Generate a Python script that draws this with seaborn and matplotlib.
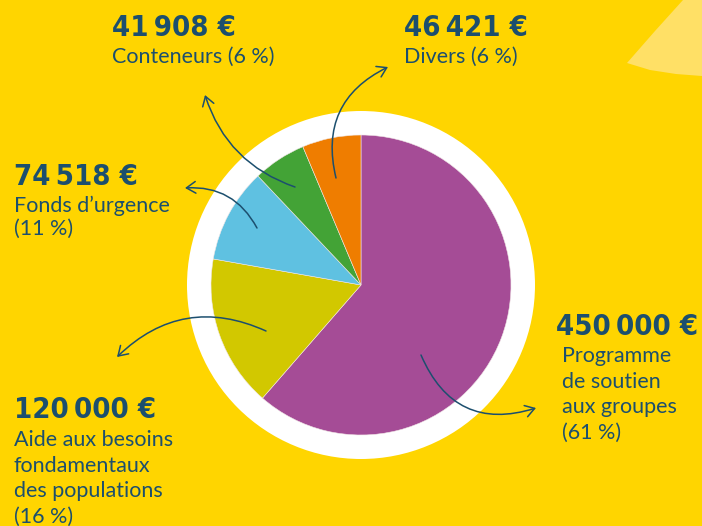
import matplotlib
matplotlib.use("Agg")
import matplotlib.pyplot as plt
import seaborn as sns
from matplotlib.patches import Circle, Polygon, FancyArrowPatch, ArrowStyle

# ---- data ----
categories = ["Programme de soutien aux groupes",
              "Aide aux besoins fondamentaux des populations",
              "Fonds d\u2019urgence", "Conteneurs", "Divers"]
amounts = [450000, 120000, 74518, 41908, 46421]
percents = [61, 16, 11, 6, 6]
label_lines = [["Programme", "de soutien", "aux groupes", "(61 %)"],
               ["Aide aux besoins", "fondamentaux", "des populations", "(16 %)"],
               ["Fonds d\u2019urgence", "(11 %)"],
               ["Conteneurs (6 %)"],
               ["Divers (6 %)"]]
slice_colors = ["#A54C96", "#D2C800", "#5FC1E1", "#43A336", "#EF7D00"]

# ---- style ----
W, H = 702, 526
BG = "#FFD500"
TXT = "#1C4F6E"
sns.set_theme(style="white", rc={"figure.facecolor": BG, "axes.facecolor": BG})
palette = sns.color_palette(slice_colors)

fig = plt.figure(figsize=(W / 100, H / 100), dpi=100)
ax = fig.add_axes([0, 0, 1, 1])

def Y(y):
    return H - y

cx, cy = 361, 285
ax.add_patch(Polygon([(683, Y(0)), (655, Y(31)), (627, Y(63)), (650, Y(70)),
                      (676, Y(74)), (702, Y(76)), (702, Y(0))],
                     closed=True, facecolor="#FFE066", edgecolor="none", zorder=0))
ax.add_patch(Circle((cx, Y(cy)), 174, facecolor="white", edgecolor="none", zorder=1))
wedges, _ = ax.pie(amounts, colors=palette, startangle=90, counterclock=False,
                   radius=150, center=(cx, Y(cy)), frame=True,
                   wedgeprops=dict(edgecolor="#f0e6e6", linewidth=0.4, zorder=2))
for w in wedges:
    w.set_zorder(2)

ax.set_xlim(0, W)
ax.set_ylim(0, H)
ax.set_aspect("auto")
ax.axis("off")

# ---- texts ----
value_font = dict(family=["DejaVu Sans"], stretch="condensed", weight="bold", size=21)
label_font = dict(family=["Lato", "DejaVu Sans"], size=15.5)

def fmt_amount(v):
    return f"{v:,}".replace(",", "\u2009") + " \u20ac"

# (value x, label x, value baseline, first label baseline, line spacing)
text_pos = [(556, 562, 335, 362, 25.5),
            (14, 14, 418, 446, 25.5),
            (14, 14, 185, 212, 23),
            (112, 112, 36, 63, 25),
            (404, 404, 36, 63, 25)]
for amt, lines, (vx, lx, vb, lb, sp) in zip(amounts, label_lines, text_pos):
    ax.text(vx, Y(vb), fmt_amount(amt), color=TXT,
            va="baseline", ha="left", **value_font)
    for i, ln in enumerate(lines):
        ax.text(lx, Y(lb + i * sp), ln, color=TXT, va="baseline", ha="left", **label_font)

# ---- arrows ----
arrows = [((421, 355), (536, 408), 0.45),
          ((266, 331), (117, 357), 0.34),
          ((257, 228), (185, 188), 0.32),
          ((295, 187), (205, 95), -0.25),
          ((336, 178), (388, 67), -0.4)]
style = ArrowStyle("->", head_length=0.55, head_width=0.35)
for (x0, y0), (x1, y1), rad in arrows:
    ax.add_patch(FancyArrowPatch((x0, Y(y0)), (x1, Y(y1)),
                                 connectionstyle=f"arc3,rad={rad}",
                                 arrowstyle=style, mutation_scale=12,
                                 color=TXT, linewidth=1.1, zorder=5,
                                 shrinkA=0, shrinkB=0))

fig.savefig("out.png", dpi=100, facecolor=BG)
